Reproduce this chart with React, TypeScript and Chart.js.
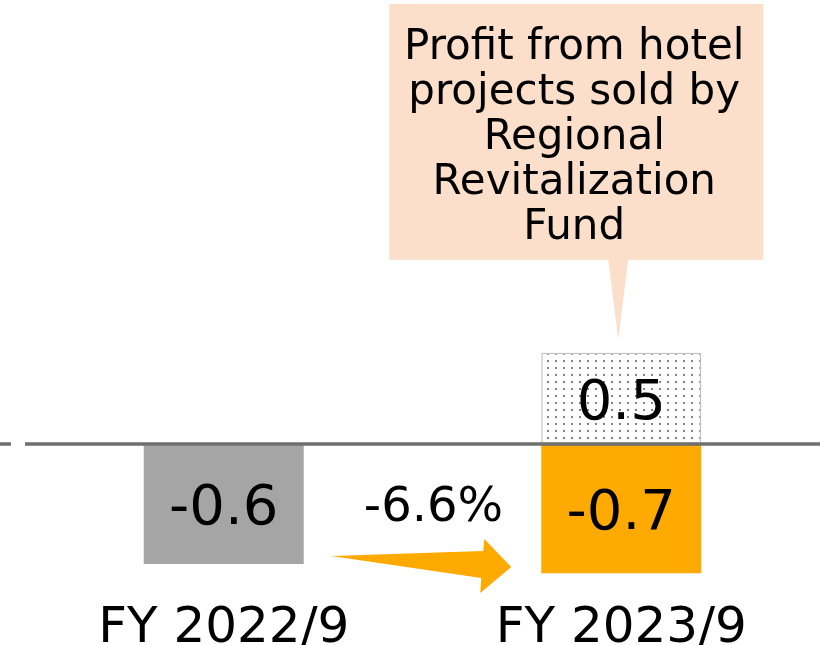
import { useEffect, useRef } from "react";
import { Chart, registerables } from "chart.js";

Chart.register(...registerables);

const categories = ["FY 2022/9", "FY 2023/9"];
const operatingValues = [-0.66, -0.71];
const operatingLabels = ["-0.6", "-0.7"];
const hotelProfitValues: (number | null)[] = [null, 0.5];
const hotelProfitLabels = ["", "0.5"];
const changeLabel = "-6.6%";
const calloutLines = ["Profit from hotel", "projects sold by", "Regional", "Revitalization", "Fund"];

const FONT = "'DejaVu Sans', sans-serif";
const GRAY = "#a5a5a5";
const ORANGE = "#ffaa00";
const PEACH = "#fcdfca";

function makeDotPattern(): CanvasPattern | string {
  const c = document.createElement("canvas");
  c.width = 8;
  c.height = 7;
  const g = c.getContext("2d");
  if (!g) return "#fff";
  g.fillStyle = "#ffffff";
  g.fillRect(0, 0, 8, 7);
  g.fillStyle = "#808080";
  g.fillRect(3, 3, 2, 2);
  const p = g.createPattern(c, "repeat");
  return p || "#fff";
}

const overlayPlugin = {
  id: "overlay",
  afterDatasetsDraw(chart: any) {
    const { ctx, chartArea, scales } = chart;
    const y0 = scales.y.getPixelForValue(0);
    ctx.save();
    ctx.strokeStyle = "#6f6f6f";
    ctx.lineWidth = 3.5;
    ctx.beginPath();
    ctx.moveTo(chartArea.left, y0);
    ctx.lineTo(chartArea.right, y0);
    ctx.moveTo(0, y0);
    ctx.lineTo(chartArea.left - 14, y0);
    ctx.stroke();
    ctx.restore();
  },
  afterDraw(chart: any) {
    const { ctx } = chart;
    const m0 = chart.getDatasetMeta(0).data;
    const m1 = chart.getDatasetMeta(1).data;
    const b0 = m0[0].getProps(["x", "y", "base", "width"], true);
    const b1 = m0[1].getProps(["x", "y", "base", "width"], true);
    const h1 = m1[1].getProps(["x", "y", "base", "width"], true);

    const centerText = (t: string, x: number, cy: number, size: number) => {
      ctx.font = `${size}px ${FONT}`;
      ctx.fillStyle = "#000";
      ctx.textAlign = "center";
      ctx.textBaseline = "alphabetic";
      ctx.fillText(t, x, cy + 0.364 * size);
    };

    ctx.save();
    // value labels
    centerText(operatingLabels[0], b0.x, (b0.y + b0.base) / 2, 56);
    centerText(operatingLabels[1], b1.x, (b1.y + b1.base) / 2, 56);
    centerText(hotelProfitLabels[1], h1.x, (h1.y + h1.base) / 2, 56);

    // change label
    centerText(changeLabel, (b0.x + b1.x) / 2 + 11, (b0.y + b0.base) / 2, 48);

    // arrow
    const R0 = b0.x + b0.width / 2;
    const B0 = Math.max(b0.y, b0.base);
    const L1 = b1.x - b1.width / 2;
    ctx.fillStyle = ORANGE;
    ctx.beginPath();
    ctx.moveTo(R0 + 27.5, B0 - 8);
    ctx.lineTo(L1 - 58, B0 - 13);
    ctx.lineTo(L1 - 57, B0 - 25);
    ctx.lineTo(L1 - 30, B0 + 3);
    ctx.lineTo(L1 - 61, B0 + 29);
    ctx.lineTo(L1 - 60, B0 + 14);
    ctx.closePath();
    ctx.fill();

    // callout
    const cx = h1.x;
    const top = Math.min(h1.y, h1.base);
    const tipX = cx - 3;
    const tipY = top - 13;
    const boxBottom = top - 93;
    const boxTop = boxBottom - 256;
    const boxLeft = cx - 232;
    const boxRight = cx + 142;
    ctx.fillStyle = PEACH;
    ctx.fillRect(boxLeft, boxTop, boxRight - boxLeft, boxBottom - boxTop);
    ctx.beginPath();
    ctx.moveTo(cx - 13, boxBottom - 1);
    ctx.lineTo(tipX, tipY);
    ctx.lineTo(cx + 7, boxBottom - 1);
    ctx.closePath();
    ctx.fill();

    ctx.font = `42px ${FONT}`;
    ctx.fillStyle = "#000";
    ctx.textAlign = "center";
    ctx.textBaseline = "alphabetic";
    calloutLines.forEach((line, i) => {
      ctx.fillText(line, cx - 47, boxTop + 55 + 45 * i);
    });
    ctx.restore();
  },
};

export default function App() {
  const ref = useRef<HTMLCanvasElement | null>(null);

  useEffect(() => {
    if (!ref.current) return;
    Chart.defaults.font.family = FONT;
    const chart = new Chart(ref.current, {
      type: "bar",
      data: {
        labels: categories,
        datasets: [
          {
            label: "Operating result",
            data: operatingValues,
            backgroundColor: [GRAY, ORANGE],
            borderWidth: 0,
            barPercentage: 0.4025,
            categoryPercentage: 1,
          },
          {
            label: "Profit from hotel projects",
            data: hotelProfitValues as any,
            backgroundColor: makeDotPattern() as any,
            borderColor: "#bfbfbf",
            borderWidth: 1.5,
            borderSkipped: false,
            barPercentage: 0.4025,
            categoryPercentage: 1,
          },
        ],
      },
      options: {
        animation: false,
        responsive: true,
        maintainAspectRatio: false,
        layout: { padding: { left: 25, right: 13, top: 0, bottom: -23 } },
        plugins: {
          legend: { display: false },
          tooltip: { enabled: false },
        },
        scales: {
          x: {
            stacked: true,
            grid: { display: false },
            border: { display: false },
            ticks: {
              color: "#000",
              padding: 22,
              font: { size: 50, lineHeight: 0.66, family: FONT },
            },
          },
          y: {
            stacked: true,
            display: false,
            min: -0.764,
            max: 2.438,
          },
        },
      },
      plugins: [overlayPlugin],
    });
    return () => chart.destroy();
  }, []);

  return (
    <div style={{ position: "absolute", left: 0, top: 0, width: 833, height: 645, background: "#fff" }}>
      <canvas ref={ref} />
    </div>
  );
}
